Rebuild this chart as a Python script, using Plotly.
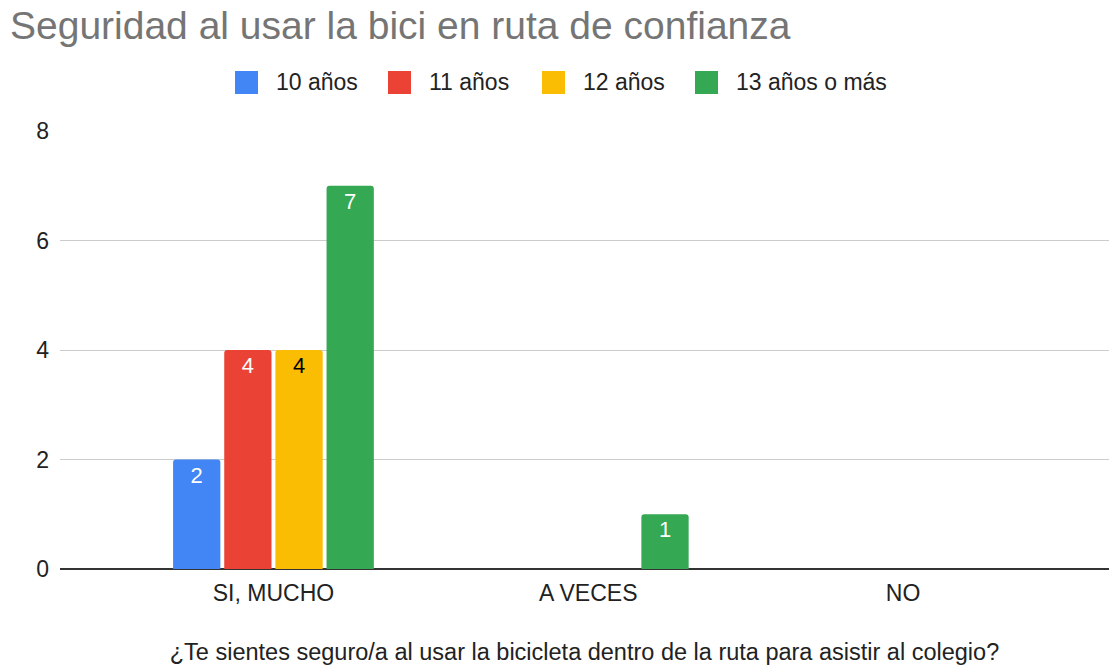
import plotly.graph_objects as go

categories = ["SI, MUCHO", "A VECES", "NO"]
series_names = ["10 años", "11 años", "12 años", "13 años o más"]
v10 = [2, 0, 0]
v11 = [4, 0, 0]
v12 = [4, 0, 0]
v13 = [7, 1, 0]
colors = ["#4285F4", "#EA4335", "#FBBC04", "#34A853"]
text_colors = ["#ffffff", "#ffffff", "#000000", "#ffffff"]
y_ticks = [0, 2, 4, 6, 8]

FONT = "Arial, 'Liberation Sans', sans-serif"
W, H = 1110, 667
ML, MR, MT, MB = 60, 1, 131, 98
PW = W - ML - MR
PH = H - MT - MB

def px_x(p):
    return (p - ML) / PW

def px_y(p):
    return (H - MB - p) / PH

fig = go.Figure()
for name, vals, col, tcol in zip(series_names, [v10, v11, v12, v13], colors, text_colors):
    fig.add_trace(go.Bar(
        name=name, x=categories, y=vals,
        marker=dict(color=col, line=dict(width=0)),
        text=[str(v) if v else "" for v in vals],
        textposition="inside", insidetextanchor="end",
        textfont=dict(color=tcol, size=22, family=FONT),
        textangle=0, showlegend=False,
        hoverinfo="x+y+name",
    ))

# legend (drawn manually to match large rounded swatches)
legend_x = [235, 388, 542, 695]
shapes = []
annotations = []
for name, col, lx in zip(series_names, colors, legend_x):
    shapes.append(dict(type="rect", xref="paper", yref="paper",
                       x0=px_x(lx), x1=px_x(lx + 23), y0=px_y(94), y1=px_y(71),
                       fillcolor=col, line=dict(width=0), layer="above"))
    annotations.append(dict(text=name, xref="paper", yref="paper",
                            x=px_x(lx + 39), y=px_y(82.5), xanchor="left", yanchor="middle",
                            showarrow=False, font=dict(size=23, color="#222222", family=FONT)))

fig.update_layout(
    width=W, height=H,
    paper_bgcolor="white", plot_bgcolor="white",
    barmode="group", bargap=0.35, bargroupgap=0.076, barcornerradius=3,
    margin=dict(l=ML, r=MR, t=MT, b=MB, autoexpand=False),
    font=dict(family=FONT, size=23, color="#222222"),
    title=dict(text="Seguridad al usar la bici en ruta de confianza",
               x=10 / W, xanchor="left", yref="container", y=1 - 12 / H, yanchor="top",
               font=dict(size=39, color="#757575", family=FONT)),
    showlegend=False,
    shapes=shapes,
    annotations=annotations,
    uniformtext=dict(minsize=8, mode="show"),
)
fig.update_xaxes(type="category", range=[-0.678, 2.654], showgrid=False, automargin=False,
                 showline=False, ticks="", ticklabelstandoff=8,
                 tickfont=dict(size=23, color="#222222"),
                 title=dict(text="¿Te sientes seguro/a al usar la bicicleta dentro de la ruta para asistir al colegio?",
                            font=dict(size=23.5, color="#222222"), standoff=38),
                 fixedrange=True)
fig.update_yaxes(range=[0, 8], tickvals=y_ticks, showgrid=True, gridcolor="#cccccc",
                 gridwidth=1.2, zeroline=True, zerolinecolor="#333333", zerolinewidth=2,
                 showline=False, ticks="", ticklabelstandoff=10, automargin=False,
                 tickfont=dict(size=23, color="#222222"), fixedrange=True)

fig.write_html("out.html",
               config={"displayModeBar": False},
               post_script="document.body.style.margin='0';document.body.style.overflow='hidden';")
